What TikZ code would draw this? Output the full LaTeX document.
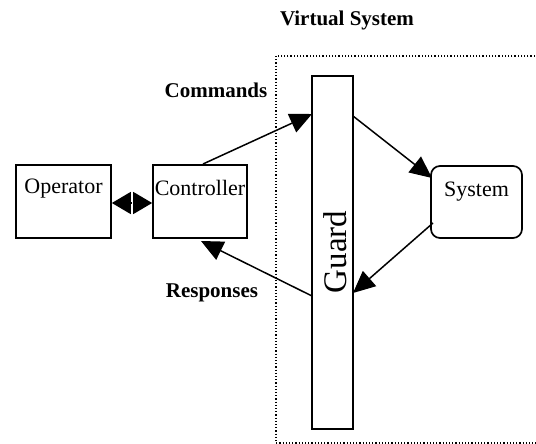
\documentclass[tikz,border=0pt]{standalone}
\usepackage{fontspec}
\setmainfont{Liberation Serif}
\usetikzlibrary{arrows.meta}
\begin{document}
\begin{tikzpicture}[x=1pt,y=-1pt,
  box/.style={draw,line width=1.7pt,inner sep=0pt},
  conn/.style={line width=1.5pt,-{Triangle[length=22pt,width=20pt]}},
  dbl/.style={line width=1.5pt,-{Triangle[length=19pt,width=22pt]}},
  lbl/.style={font=\fontsize{21}{24}\selectfont\bfseries,inner sep=0pt},
  txt/.style={font=\fontsize{22}{24}\selectfont,inner sep=0pt}]
\clip (0,0) rectangle (536,444);
\useasboundingbox (0,0) rectangle (536,444);
\draw[dotted,line width=1.2pt] (276,56) rectangle (580,443);
\node[lbl] (vs) at (347,20) {Virtual System};
\node[lbl] (cmd) at (216,90) {Commands};
\node[lbl] (rsp) at (212,293) {Responses};
% boxes
\node[box,minimum width=95pt,minimum height=73pt] (op) at (63.5,201.5) {};
\node[txt] at (63.5,189) {Operator};
\node[box,minimum width=94pt,minimum height=73pt] (ct) at (200,201.5) {};
\node[txt] at (200,188) {Controller};
\node[box,rounded corners=9pt,minimum width=91pt,minimum height=72pt] (sys) at (476.5,202) {};
\node[txt] at (476.5,192) {System};
\node[box,minimum width=41pt,minimum height=353pt] (gd) at (332.5,252.5) {};
\node[font=\fontsize{33}{36}\selectfont,rotate=90,inner sep=0pt] (gt) at (335,252) {Guard};
% connectors
\coordinate (c1) at (203,164);
\coordinate (g1) at (312,114);
\coordinate (g2) at (353,116);
\coordinate (s1) at (432,178);
\coordinate (s2) at (433,223);
\coordinate (g3) at (353,293);
\coordinate (g4) at (312,296);
\coordinate (c2) at (201,241);
\coordinate (mid) at (132,203);
\draw[conn] (c1) -- (g1);
\draw[conn] (g2) -- (s1);
\draw[conn] (s2) -- (g3);
\draw[conn] (g4) -- (c2);
\draw[dbl] (mid) -- (op.east |- mid);
\draw[dbl] (mid) -- (ct.west |- mid);
\draw[white,line width=1pt] (132,197) -- (132,207);
\end{tikzpicture}
\end{document}
